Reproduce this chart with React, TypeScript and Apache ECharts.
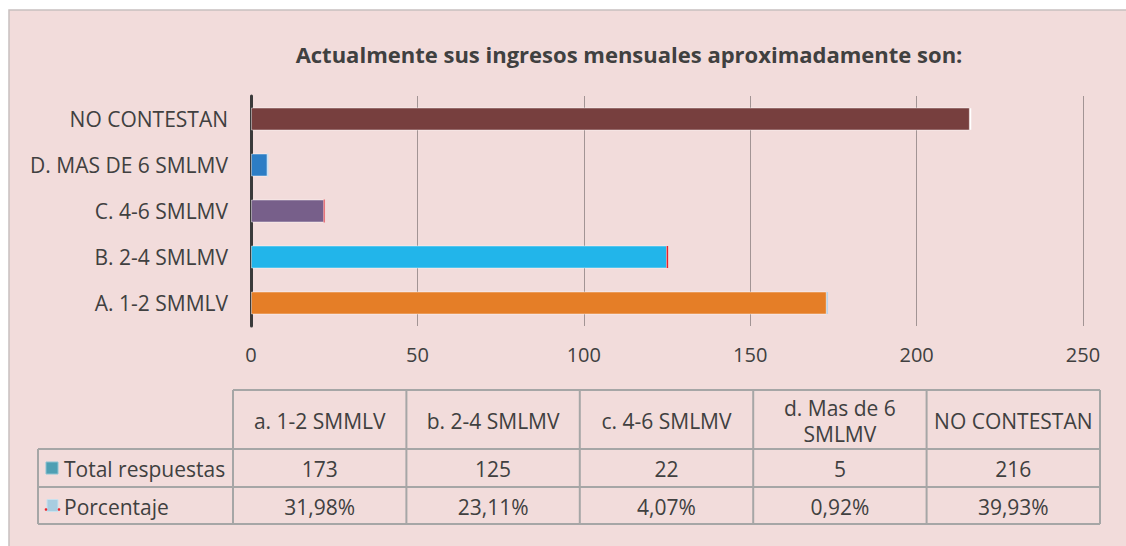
import React, { useEffect, useRef } from "react";
import * as echarts from "echarts";

const categories = ["A. 1-2 SMMLV", "B. 2-4 SMLMV", "C. 4-6 SMLMV", "D. MAS DE 6 SMLMV", "NO CONTESTAN"];
const tableHeaders = ["a. 1-2 SMMLV", "b. 2-4 SMLMV", "c. 4-6 SMLMV", "d. Mas de 6\nSMLMV", "NO CONTESTAN"];
const totalRespuestas = [173, 125, 22, 5, 216];
const porcentaje = [31.98, 23.11, 4.07, 0.92, 39.93];
const barColors = ["#E57E27", "#22B5EA", "#775F8A", "#2C7DC5", "#773F3E"];
const pctColors = ["#B9D3EA", "#E8242B", "#E8737A", "#C9E1F4", "#FFFFFF"];
const seriesNames = ["Total respuestas", "Porcentaje"];
const xTicks = { min: 0, max: 250, interval: 50 };

const FONT = "'Open Sans', 'Noto Sans', sans-serif";
const FS = 21;
const TXT = "#404040";

export default function App() {
  const ref = useRef<HTMLDivElement>(null);
  useEffect(() => {
    document.body.style.margin = "0";
    const chart = echarts.init(ref.current!, null, { renderer: "svg" });

    const tL = 233, tR = 1100, legL = 38;
    const colW = (tR - tL) / categories.length;
    const yTop = 390, yH = 449, yR1 = 487, yR2 = 524;
    const lineStyle = { stroke: "#A6A6A6", lineWidth: 2 };
    const g: any[] = [];
    g.push({ type: "rect", z: -10, shape: { x: 9, y: 10, width: 1130, height: 545 }, style: { fill: "#F2DCDB", stroke: "#C8C0C0", lineWidth: 1.5 } });
    g.push({ type: "line", shape: { x1: tL, y1: yTop, x2: tR, y2: yTop }, style: lineStyle });
    [yH, yR1, yR2].forEach((y) => g.push({ type: "line", shape: { x1: legL, y1: y, x2: tR, y2: y }, style: lineStyle }));
    g.push({ type: "line", shape: { x1: legL, y1: yH, x2: legL, y2: yR2 }, style: lineStyle });
    for (let i = 0; i <= categories.length; i++) {
      const x = tL + i * colW;
      g.push({ type: "line", shape: { x1: x, y1: yTop, x2: x, y2: yR2 }, style: lineStyle });
    }
    const rows = [
      totalRespuestas.map((v) => String(v)),
      porcentaje.map((v) => v.toFixed(2).replace(".", ",") + "%"),
    ];
    tableHeaders.forEach((h, i) => {
      g.push({ type: "text", x: tL + (i + 0.5) * colW, y: (yTop + yH) / 2 + 1, style: { text: h, fill: TXT, fontSize: FS, fontFamily: FONT, textAlign: "center", textVerticalAlign: "middle", lineHeight: 26 } });
    });
    const rowY = [(yH + yR1) / 2, (yR1 + yR2) / 2];
    rows.forEach((r, ri) => {
      r.forEach((t, i) => {
        g.push({ type: "text", x: tL + (i + 0.5) * colW, y: rowY[ri] + 1, style: { text: t, fill: TXT, fontSize: FS, fontFamily: FONT, textAlign: "center", textVerticalAlign: "middle" } });
      });
      g.push({ type: "text", x: 64, y: rowY[ri] + 1, style: { text: seriesNames[ri], fill: TXT, fontSize: FS, fontFamily: FONT, textAlign: "left", textVerticalAlign: "middle" } });
    });
    g.push({ type: "rect", shape: { x: 46, y: rowY[0] - 6, width: 12, height: 12 }, style: { fill: "#4F9FB3", stroke: "#8CC3D2", lineWidth: 1 } });
    g.push({ type: "rect", shape: { x: 47, y: rowY[1] - 6, width: 11, height: 12 }, style: { fill: "#A8CDE0", stroke: "#C9E1EE", lineWidth: 1 } });
    g.push({ type: "circle", shape: { cx: 46, cy: rowY[1] + 4, r: 1.3 }, style: { fill: "#E8242B" } });
    g.push({ type: "circle", shape: { cx: 59, cy: rowY[1] + 4, r: 1.3 }, style: { fill: "#E8242B" } });

    chart.setOption({
      animation: false,
      backgroundColor: "#FFFFFF",
      textStyle: { fontFamily: FONT },
      title: {
        text: "Actualmente sus ingresos mensuales aproximadamente son:",
        left: 624,
        textAlign: "center",
        top: 38,
        textStyle: { fontSize: 22, fontWeight: "bold", color: TXT, fontFamily: FONT },
      },
      grid: { left: 251, right: 43, top: 96, bottom: 220, containLabel: false },
      xAxis: {
        type: "value",
        min: xTicks.min,
        max: xTicks.max,
        interval: xTicks.interval,
        axisLine: { show: false },
        axisTick: { show: false },
        splitLine: { show: true, lineStyle: { color: "#A29494", width: 1 } },
        axisLabel: { fontSize: 20, color: TXT, margin: 18, fontFamily: FONT },
      },
      yAxis: {
        type: "category",
        data: categories,
        axisLine: { show: true, lineStyle: { color: "#3A3A3A", width: 3 } },
        axisTick: { show: false },
        axisLabel: { fontSize: FS, color: TXT, margin: 23, fontFamily: FONT },
      },
      graphic: g,
      series: [
        {
          name: seriesNames[0],
          type: "bar",
          stack: "s",
          barWidth: "50%",
          data: totalRespuestas.map((v, i) => ({ value: v, itemStyle: { color: barColors[i], borderColor: "rgba(255,255,255,0.45)", borderWidth: 1 } })),
        },
        {
          name: seriesNames[1],
          type: "bar",
          stack: "s",
          barWidth: "50%",
          data: porcentaje.map((v, i) => ({ value: v / 100, itemStyle: { color: pctColors[i], borderColor: pctColors[i], borderWidth: 1.5 } })),
        },
      ],
    });
    return () => chart.dispose();
  }, []);
  return <div ref={ref} style={{ width: 1126, height: 546 }} />;
}
